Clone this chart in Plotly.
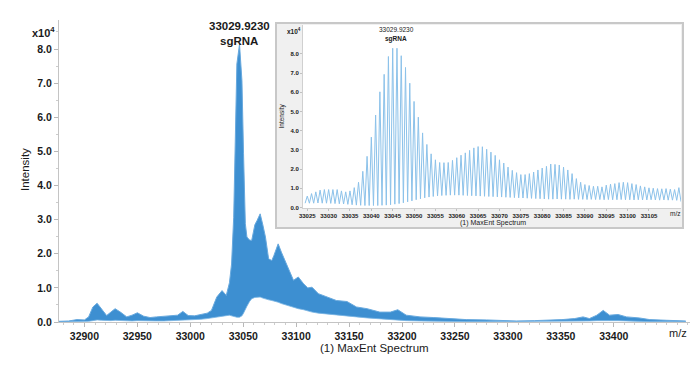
import plotly.graph_objects as go

# ---------------- data: main spectrum (envelope of the dense profile) ----------------
main_mz = [32876, 32885, 32893, 32900, 32904, 32908, 32912, 32916, 32921, 32925,
           32929, 32934, 32940, 32945, 32950, 32956, 32962, 32968, 32975, 32982,
           32988, 32993, 32998, 33004, 33010, 33016, 33020, 33025, 33030, 33034,
           33037, 33039, 33041, 33042.5, 33044, 33046.5, 33048.8, 33050.3, 33052, 33053.5,
           33056, 33058, 33061, 33063, 33066, 33068.5, 33071, 33074, 33077, 33079,
           33083, 33086, 33088, 33093, 33097.5, 33102, 33107, 33111, 33115, 33121,
           33129, 33138, 33148, 33157, 33167, 33179, 33189, 33196, 33204, 33217,
           33230, 33242, 33261, 33280, 33308, 33325, 33340, 33351, 33363, 33371,
           33377, 33384, 33390, 33396, 33404, 33412, 33424, 33434, 33450, 33468]
main_upper = [0.02, 0.03, 0.07, 0.06, 0.15, 0.44, 0.55, 0.40, 0.19, 0.29,
              0.39, 0.29, 0.15, 0.20, 0.27, 0.17, 0.13, 0.15, 0.17, 0.17,
              0.20, 0.31, 0.19, 0.18, 0.22, 0.26, 0.34, 0.73, 0.92, 0.78,
              1.15, 1.70, 3.07, 5.60, 7.56, 8.14, 7.07, 4.93, 2.88, 2.49,
              2.40, 2.39, 2.85, 2.97, 3.17, 2.85, 2.49, 1.85, 1.80, 1.95,
              2.29, 2.05, 1.90, 1.51, 1.22, 1.32, 1.12, 1.00, 1.02, 0.83,
              0.73, 0.63, 0.60, 0.44, 0.39, 0.29, 0.29, 0.36, 0.20, 0.15,
              0.13, 0.10, 0.07, 0.06, 0.03, 0.04, 0.05, 0.07, 0.10, 0.15,
              0.10, 0.20, 0.34, 0.20, 0.22, 0.15, 0.12, 0.07, 0.05, 0.03]
main_lower = [0.00, 0.00, 0.01, 0.01, 0.02, 0.04, 0.06, 0.05, 0.04, 0.04,
              0.05, 0.04, 0.03, 0.03, 0.04, 0.03, 0.03, 0.03, 0.03, 0.04,
              0.04, 0.05, 0.05, 0.06, 0.08, 0.10, 0.12, 0.15, 0.18, 0.20,
              0.20, 0.18, 0.16, 0.15, 0.14, 0.14, 0.18, 0.26, 0.38, 0.46,
              0.60, 0.68, 0.72, 0.73, 0.73, 0.70, 0.67, 0.65, 0.63, 0.62,
              0.58, 0.54, 0.52, 0.48, 0.42, 0.39, 0.36, 0.32, 0.29, 0.26,
              0.24, 0.21, 0.18, 0.15, 0.12, 0.09, 0.06, 0.05, 0.04, 0.03,
              0.02, 0.02, 0.01, 0.01, 0.01, 0.01, 0.01, 0.02, 0.02, 0.03,
              0.03, 0.04, 0.05, 0.04, 0.04, 0.03, 0.02, 0.01, 0.01, 0.01]
main_xticks = [32900, 32950, 33000, 33050, 33100, 33150, 33200, 33250, 33300, 33350, 33400]
main_xticklabels = ["32900", "32950", "33000", "33050", "33100", "33150",
                    "33200", "33250", "33300", "33350", "33400"]
main_yticks = [0, 1, 2, 3, 4, 5, 6, 7, 8]
main_yticklabels = ["0.0", "1.0", "2.0", "3.0", "4.0", "5.0", "6.0", "7.0", "8.0"]

# ---------------- data: inset (zoomed isotope peaks) ----------------
inset_peak_mz = [33025, 33026, 33027, 33028, 33029, 33030, 33031, 33032, 33033, 33034,
                 33035, 33036, 33037, 33038, 33039, 33040, 33041, 33042, 33043, 33044,
                 33045, 33046, 33047, 33048, 33049, 33050, 33051, 33052, 33053, 33054,
                 33055, 33056, 33057, 33058, 33059, 33060, 33061, 33062, 33063, 33064,
                 33065, 33066, 33067, 33068, 33069, 33070, 33071, 33072, 33073, 33074,
                 33075, 33076, 33077, 33078, 33079, 33080, 33081, 33082, 33083, 33084,
                 33085, 33086, 33087, 33088, 33089, 33090, 33091, 33092, 33093, 33094,
                 33095, 33096, 33097, 33098, 33099, 33100, 33101, 33102, 33103, 33104,
                 33105, 33106, 33107, 33108, 33109, 33110, 33111, 33112]
inset_peak_int = [0.59, 0.72, 0.81, 0.90, 0.93, 0.93, 0.93, 0.93, 0.86, 0.81,
                  0.86, 1.03, 1.31, 1.88, 2.66, 3.66, 4.81, 6.02, 6.93, 7.86,
                  8.29, 8.29, 7.90, 7.29, 6.47, 5.52, 4.70, 3.88, 3.28, 2.79,
                  2.48, 2.34, 2.33, 2.34, 2.45, 2.59, 2.72, 2.84, 2.97, 3.10,
                  3.17, 3.16, 3.03, 2.88, 2.71, 2.48, 2.31, 2.10, 1.93, 1.81,
                  1.71, 1.71, 1.76, 1.84, 1.95, 2.05, 2.14, 2.26, 2.24, 2.21,
                  2.10, 1.95, 1.76, 1.50, 1.31, 1.19, 1.14, 1.10, 1.10, 1.07,
                  1.16, 1.21, 1.24, 1.29, 1.31, 1.29, 1.24, 1.19, 1.12, 1.07,
                  1.02, 1.00, 0.98, 0.97, 0.98, 0.95, 0.93, 1.03]
inset_valley_int = [0.22, 0.22, 0.23, 0.22, 0.22, 0.21, 0.20, 0.19, 0.18, 0.16,
                    0.14, 0.12, 0.11, 0.10, 0.10, 0.10, 0.10, 0.11, 0.12, 0.14,
                    0.17, 0.20, 0.24, 0.29, 0.34, 0.40, 0.45, 0.50, 0.54, 0.57,
                    0.60, 0.62, 0.63, 0.64, 0.64, 0.64, 0.63, 0.62, 0.61, 0.60,
                    0.59, 0.58, 0.57, 0.56, 0.55, 0.54, 0.53, 0.52, 0.51, 0.50,
                    0.49, 0.48, 0.47, 0.46, 0.45, 0.44, 0.43, 0.43, 0.44, 0.43,
                    0.43, 0.42, 0.43, 0.42, 0.42, 0.41, 0.42, 0.41, 0.41, 0.40,
                    0.41, 0.40, 0.40, 0.41, 0.40, 0.40, 0.39, 0.40, 0.39, 0.39,
                    0.40, 0.39, 0.38, 0.39, 0.38, 0.38, 0.37, 0.30]
inset_start_int = 0.22
inset_xticks = [33025, 33030, 33035, 33040, 33045, 33050, 33055, 33060, 33065,
                33070, 33075, 33080, 33085, 33090, 33095, 33100, 33105]
inset_xticklabels = ["33025", "33030", "33035", "33040", "33045", "33050", "33055",
                     "33060", "33065", "33070", "33075", "33080", "33085", "33090",
                     "33095", "33100", "33105"]

FONT = "Liberation Sans, Arial, sans-serif"
TXT = "#1a1a1a"

fig = go.Figure()

# main spectrum band
fig.add_trace(go.Scatter(x=main_mz, y=main_lower, mode="lines",
                         line=dict(color="#7ab5e3", width=0.8),
                         hoverinfo="skip", showlegend=False))
fig.add_trace(go.Scatter(x=main_mz, y=main_upper, mode="lines", fill="tonexty",
                         fillcolor="#3d8fd1", line=dict(color="#68a9de", width=1),
                         showlegend=False))

# inset zigzag profile
zx = [inset_peak_mz[0] - 0.5]
zy = [inset_start_int]
for m, p, v in zip(inset_peak_mz, inset_peak_int, inset_valley_int):
    zx += [m, m + 0.5]
    zy += [p, v]
fig.add_trace(go.Scatter(x=zx, y=zy, mode="lines", xaxis="x2", yaxis="y2",
                         line=dict(color="#8cc2ea", width=1), showlegend=False))

# geometry helpers (pixel -> paper) for the decorations
L, R, T, B = 59, 690, 20, 322
def px(x):
    return (x - L) / (R - L)
def py(y):
    return (B - y) / (B - T)

fig.update_layout(
    width=700, height=365,
    margin=dict(l=L, r=700 - R, t=T, b=365 - B),
    paper_bgcolor="white", plot_bgcolor="white",
    font=dict(family=FONT, color=TXT),
    xaxis=dict(range=[32876, 33472], showgrid=False, zeroline=False,
               showline=True, linecolor="#c4c4c4", linewidth=1,
               tickvals=main_xticks, ticktext=main_xticklabels, tickangle=0,
               ticks="outside", ticklen=4, tickcolor="#b8b8b8",
               tickfont=dict(size=10.5, family=FONT, color=TXT, weight="bold"),
               minor=dict(dtick=10, ticks="outside", ticklen=2, tickcolor="#cccccc")),
    yaxis=dict(range=[0, 8.85], showgrid=False, zeroline=False,
               showline=True, linecolor="#c4c4c4", linewidth=1,
               tickvals=main_yticks, ticktext=main_yticklabels,
               ticks="outside", ticklen=4, tickcolor="#b8b8b8",
               tickfont=dict(size=10.5, family=FONT, color=TXT, weight="bold"),
               minor=dict(dtick=0.5, ticks="outside", ticklen=2, tickcolor="#cccccc")),
    xaxis2=dict(domain=[px(303), px(681)], anchor="y2", range=[33024.0, 33112.5],
                showgrid=False, zeroline=False, showline=True, linecolor="#d0d0d0",
                tickvals=inset_xticks, ticktext=inset_xticklabels, tickangle=0,
                ticks="outside", ticklen=2, tickcolor="#c0c0c0",
                tickfont=dict(size=6, family=FONT, color=TXT, weight="bold")),
    yaxis2=dict(domain=[py(208), py(25)], anchor="x2", range=[-0.03, 9.5],
                showgrid=False, zeroline=False, showline=True, linecolor="#d0d0d0",
                tickvals=main_yticks, ticktext=main_yticklabels,
                ticks="outside", ticklen=2, tickcolor="#c0c0c0",
                tickfont=dict(size=6, family=FONT, color=TXT, weight="bold")),
    shapes=[
        dict(type="rect", xref="paper", yref="paper", layer="below",
             x0=px(276), x1=px(683), y0=py(228), y1=py(23),
             fillcolor="#f0f0f0", line=dict(color="#c8c8c8", width=2)),
        dict(type="rect", xref="paper", yref="paper", layer="below",
             x0=px(303), x1=px(681), y0=py(208), y1=py(25),
             fillcolor="white", line=dict(width=0)),
    ],
)

def ann(text, x, y, size, bold=False, angle=0, xanchor="center"):
    fig.add_annotation(text=text, xref="paper", yref="paper", x=px(x), y=py(y),
                       xanchor=xanchor, yanchor="middle", showarrow=False,
                       textangle=angle,
                       font=dict(size=size, family=FONT, color=TXT,
                                 weight="bold" if bold else "normal"))

# main chart texts
ann("x10<sup>4</sup>", 43, 32, 11, bold=True)
ann("33029.9230", 239, 26, 11.5, bold=True)
ann("sgRNA", 239, 41, 11.5, bold=True)
ann("Intensity", 25, 170, 11.5, angle=-90)
ann("(1) MaxEnt Spectrum", 374, 348, 11.5)
ann("m/z", 689, 333, 11, xanchor="right")

# inset texts
ann("x10<sup>4</sup>", 294, 31, 6.5, bold=True)
ann("33029.9230", 396, 29, 6.5)
ann("sgRNA", 396, 38.5, 6.5, bold=True)
ann("Intensity", 281.5, 116, 6.5, angle=-90)
ann("(1) MaxEnt Spectrum", 492.5, 223.5, 7)
ann("m/z", 682, 214, 6.5, xanchor="right")

# the page's default body margin would shift the figure by 8px; remove it
fig.write_html("out.html", config={"displayModeBar": False},
               post_script="document.body.style.margin='0';document.body.style.overflow='hidden';")
